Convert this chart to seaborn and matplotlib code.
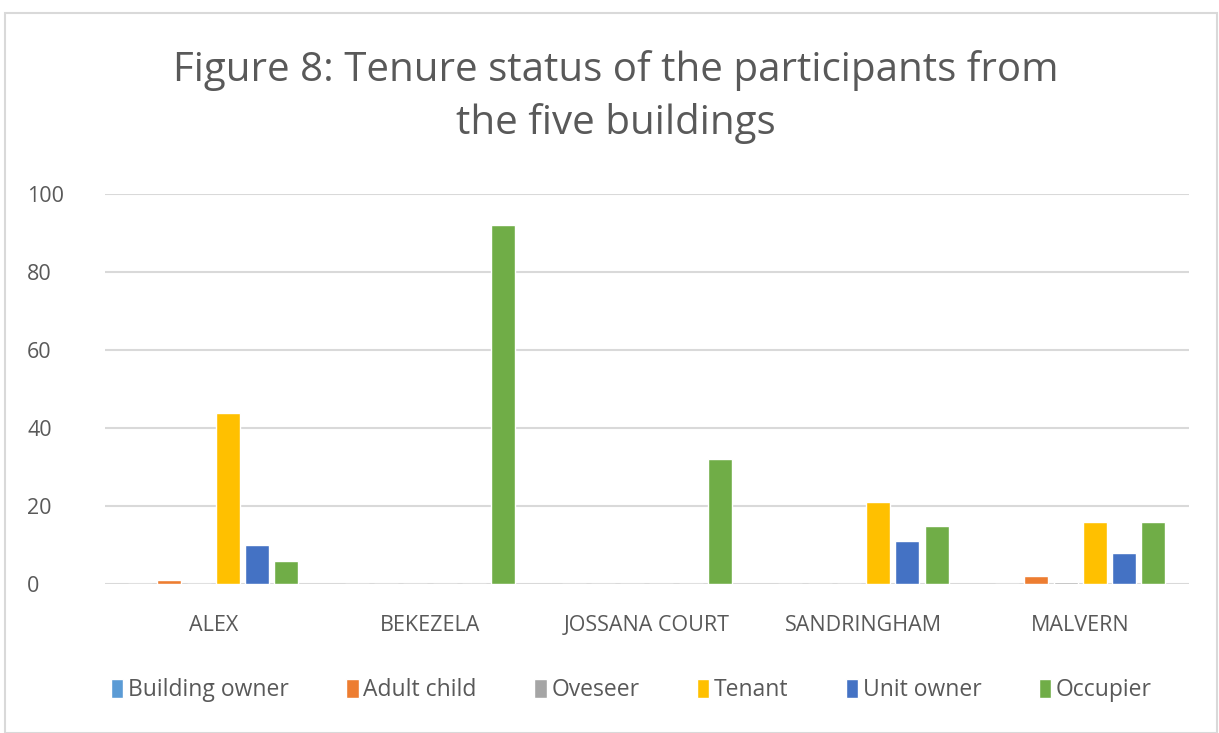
import matplotlib
matplotlib.use("Agg")
import matplotlib.pyplot as plt
import seaborn as sns
import pandas as pd
from matplotlib.patches import Rectangle

buildings = ["ALEX", "BEKEZELA", "JOSSANA COURT", "SANDRINGHAM", "MALVERN"]
series = ["Building owner", "Adult child", "Oveseer", "Tenant", "Unit owner", "Occupier"]
building_owner = [0, 0, 0, 0, 0]
adult_child = [1, 0, 0, 0, 2]
oveseer = [0, 0, 0, 0, 0.6]
tenant = [44, 0, 0, 21, 16]
unit_owner = [10, 0, 0, 11, 8]
occupier = [6, 92, 32, 15, 16]
colors = ["#5B9BD5", "#ED7D31", "#A5A5A5", "#FFC000", "#4472C4", "#70AD47"]
yticks = [0, 20, 40, 60, 80, 100]

values = [building_owner, adult_child, oveseer, tenant, unit_owner, occupier]
rows = []
for s, vals in zip(series, values):
    for b, v in zip(buildings, vals):
        rows.append({"Building": b, "Status": s, "Value": v})
df = pd.DataFrame(rows)

sns.set_theme(style="white")
plt.rcParams['font.family'] = ['Open Sans', 'DejaVu Sans']

fig = plt.figure(figsize=(12.19, 7.33), dpi=100)
fig.patches.append(Rectangle((0.004, 0.0), 0.994, 0.982, transform=fig.transFigure,
                             fill=False, edgecolor="#D9D9D9", linewidth=1.5))
ax = fig.add_axes([0.086, 0.203, 0.889, 0.532])

sns.barplot(data=df, x="Building", y="Value", hue="Status", hue_order=series,
            order=buildings, palette=colors, width=0.81, ax=ax, legend=False,
            saturation=1, errorbar=None)
for p in ax.patches:
    w = p.get_width()
    p.set_x(p.get_x() + w * 0.09)
    p.set_width(w * 0.82)

ax.set_ylim(0, 100)
ax.set_yticks(yticks)
ax.set_xlim(-0.5, 4.5)
ax.grid(axis="y", color="#D9D9D9", linewidth=1.5)
ax.set_axisbelow(True)
for sp in ax.spines.values():
    sp.set_visible(False)
ax.set_xlabel("")
ax.set_ylabel("")
ax.tick_params(axis="both", colors="#595959", labelsize=15.5, length=0)
ax.tick_params(axis="y", pad=56)
for lab in ax.get_yticklabels():
    lab.set_horizontalalignment("left")
ax.tick_params(axis="x", pad=22)

fig.text(0.505, 0.868, "Figure 8: Tenure status of the participants from\nthe five buildings",
         ha="center", va="center", fontsize=29, color="#595959", linespacing=1.4)

handles = [Rectangle((0, 0), 1, 1, facecolor=c) for c in colors]
fig.legend(handles, series, loc="center", bbox_to_anchor=(0.518, 0.058), ncol=6,
           frameon=False, fontsize=16.5, labelcolor="#595959", handlelength=0.55,
           handleheight=0.9, handletextpad=0.2, columnspacing=2.5)

fig.savefig("out.png", dpi=100, facecolor="white")
